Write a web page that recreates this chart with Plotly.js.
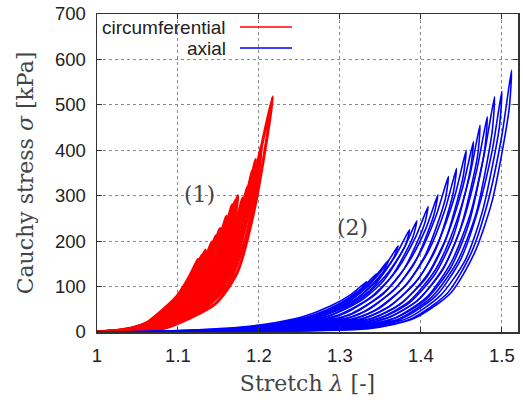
<!DOCTYPE html>
<html>
<head>
<meta charset="utf-8">
<script src="https://cdn.plot.ly/plotly-3.0.1.min.js"></script>
<style>html,body{margin:0;padding:0;background:#fff;}#chart{width:523px;height:402px;}</style>
</head>
<body>
<div id="chart"></div>
<script>
// Circumferential (red) loading/unloading cycles: stretch values and stress values (kPa)
const circLambda = [
  [1,1.015,1.040,1.060,1.0755,1.0993,1.1135,1.125,1.1215,1.1053,1.0835,1.068,1.048,1.021,1],
  [1,1.016,1.0415,1.062,1.080,1.1043,1.1185,1.130,1.1265,1.1103,1.0885,1.070,1.0495,1.022,1],
  [1,1.017,1.043,1.064,1.0845,1.1083,1.1225,1.134,1.1305,1.1143,1.0925,1.072,1.051,1.023,1],
  [1,1.019,1.046,1.067,1.0925,1.1163,1.1305,1.142,1.1385,1.1223,1.1005,1.075,1.054,1.025,1],
  [1,1.020,1.0475,1.069,1.0975,1.1213,1.1355,1.147,1.1435,1.1273,1.1055,1.077,1.0555,1.026,1],
  [1,1.021,1.049,1.0712,1.1025,1.1263,1.1405,1.152,1.1485,1.1323,1.1105,1.0792,1.057,1.027,1],
  [1,1.023,1.052,1.0792,1.1105,1.1343,1.1485,1.160,1.1565,1.1403,1.1185,1.0872,1.060,1.029,1],
  [1,1.025,1.055,1.0862,1.1175,1.1413,1.1555,1.167,1.1635,1.1473,1.1255,1.0942,1.063,1.031,1],
  [1,1.026,1.0565,1.0902,1.1215,1.1453,1.1595,1.171,1.1675,1.1513,1.1295,1.0982,1.0645,1.032,1],
  [1,1.027,1.058,1.0932,1.1245,1.1483,1.1625,1.174,1.1705,1.1543,1.1325,1.1012,1.066,1.033,1],
  [1,1.029,1.061,1.0992,1.1305,1.1543,1.1685,1.180,1.1765,1.1603,1.1385,1.1072,1.069,1.035,1],
  [1,1.031,1.064,1.1052,1.1365,1.1603,1.1745,1.186,1.1825,1.1663,1.1445,1.1132,1.072,1.037,1],
  [1,1.033,1.067,1.1112,1.1425,1.1663,1.1805,1.192,1.1885,1.1723,1.1505,1.1192,1.075,1.039,1],
  [1,1.034,1.069,1.1152,1.1465,1.1703,1.1845,1.196,1.1925,1.1763,1.1545,1.1232,1.077,1.040,1],
  [1,1.036,1.071,1.1222,1.1535,1.1773,1.1915,1.203,1.1995,1.1833,1.1615,1.1302,1.079,1.042,1],
  [1,1.040,1.075,1.139,1.166,1.187,1.201,1.217,1.211,1.193,1.173,1.146,1.083,1.046,1]
];
const circSigma = [
  [0,2,8,19,40,80,120,160,136,80,40,19,8,2,0],
  [0,2,8,20,43,85,128,170,145,85,43,20,8,2,0],
  [0,2,8,22,45,90,135,180,153,90,45,22,8,2,0],
  [0,2,8,24,50,99,149,198,168,99,50,24,8,2,0],
  [0,2,8,25,53,106,159,212,180,106,53,25,8,2,0],
  [0,2,8,27,57,114,171,228,194,114,57,27,8,2,0],
  [0,2,8,31,64,128,191,255,217,128,64,31,8,2,0],
  [0,2,8,34,70,140,210,280,238,140,70,34,8,2,0],
  [0,2,8,35,73,145,218,290,247,145,73,35,8,2,0],
  [0,2,8,36,75,150,225,300,255,150,75,36,8,2,0],
  [0,2,8,35,74,148,221,295,251,148,74,35,8,2,0],
  [0,2,8,38,80,160,240,320,272,160,80,38,8,2,0],
  [0,2,8,43,89,178,267,356,303,178,89,43,8,2,0],
  [0,2,8,46,95,190,285,380,323,190,95,46,8,2,0],
  [0,2,8,49,103,205,308,410,349,205,103,49,8,2,0],
  [0,2,8,62,130,259,389,518,440,259,130,62,8,2,0]
];

// Axial (blue) loading/unloading cycles
const axialLambda = [
  [1,1.080,1.158,1.207,1.253,1.287,1.314,1.333,1.326,1.295,1.262,1.216,1.166,1.086,1],
  [1,1.089,1.167,1.223,1.268,1.301,1.327,1.345,1.339,1.309,1.277,1.232,1.175,1.095,1],
  [1,1.098,1.175,1.242,1.285,1.317,1.342,1.360,1.354,1.325,1.294,1.251,1.183,1.104,1],
  [1,1.107,1.182,1.258,1.300,1.331,1.355,1.372,1.366,1.339,1.309,1.267,1.190,1.113,1],
  [1,1.116,1.193,1.276,1.316,1.346,1.369,1.386,1.381,1.354,1.325,1.285,1.201,1.122,1],
  [1,1.125,1.203,1.288,1.327,1.356,1.379,1.395,1.390,1.364,1.336,1.297,1.211,1.131,1],
  [1,1.134,1.217,1.288,1.306,1.344,1.371,1.393,1.409,1.404,1.379,1.353,1.315,1.297,1.225,1.140,1],
  [1,1.143,1.229,1.299,1.321,1.357,1.384,1.406,1.421,1.416,1.392,1.366,1.330,1.308,1.237,1.149,1],
  [1,1.152,1.241,1.309,1.337,1.372,1.398,1.419,1.434,1.430,1.406,1.381,1.346,1.318,1.249,1.158,1],
  [1,1.161,1.255,1.320,1.350,1.384,1.410,1.430,1.444,1.440,1.418,1.393,1.359,1.329,1.263,1.167,1],
  [1,1.170,1.266,1.330,1.364,1.398,1.422,1.442,1.456,1.452,1.430,1.407,1.373,1.339,1.274,1.176,1],
  [1,1.179,1.278,1.341,1.376,1.408,1.432,1.451,1.465,1.461,1.440,1.417,1.385,1.350,1.286,1.185,1],
  [1,1.188,1.288,1.348,1.386,1.418,1.441,1.460,1.473,1.470,1.449,1.427,1.395,1.357,1.296,1.194,1],
  [1,1.197,1.299,1.358,1.397,1.428,1.451,1.469,1.482,1.479,1.459,1.437,1.406,1.367,1.307,1.203,1],
  [1,1.206,1.309,1.367,1.408,1.438,1.461,1.478,1.491,1.488,1.468,1.445,1.414,1.374,1.316,1.211,1],
  [1,1.215,1.321,1.377,1.419,1.449,1.470,1.488,1.500,1.497,1.476,1.455,1.424,1.383,1.327,1.220,1],
  [1,1.224,1.334,1.389,1.433,1.462,1.483,1.500,1.512,1.509,1.488,1.466,1.437,1.392,1.338,1.228,1]
];
const axialSigma = [
  [0,2,8,17,33,56,83,111,94,56,33,17,8,2,0],
  [0,2,8,19,38,64,96,128,109,64,38,19,8,2,0],
  [0,2,8,24,47,79,119,158,134,79,47,24,8,2,0],
  [0,2,8,29,57,95,143,190,162,95,57,29,8,2,0],
  [0,2,8,34,68,113,169,225,191,113,68,34,8,2,0],
  [0,2,8,37,74,123,184,245,208,123,74,37,8,2,0],
  [0,2,8,30,41,83,138,207,276,235,138,83,41,30,8,2,0],
  [0,2,8,30,45,91,151,227,302,257,151,91,45,30,8,2,0],
  [0,2,8,30,51,103,171,257,342,291,171,103,51,30,8,2,0],
  [0,2,8,30,54,108,180,270,360,306,180,108,54,30,8,2,0],
  [0,2,8,30,60,120,200,300,400,340,200,120,60,30,8,2,0],
  [0,2,8,30,63,126,210,314,419,356,210,126,63,30,8,2,0],
  [0,2,8,30,68,137,228,341,455,387,228,137,68,30,8,2,0],
  [0,2,8,30,71,142,237,356,474,403,237,142,71,30,8,2,0],
  [0,2,8,30,78,155,259,389,518,440,259,155,78,30,8,2,0],
  [0,2,8,30,80,159,265,398,530,451,265,159,80,30,8,2,0],
  [0,2,8,30,86,173,288,432,576,490,288,173,86,30,8,2,0]
];

const seriesNames = ["circumferential", "axial"];
const seriesColors = ["#ff0000", "#0000ff"];
const xTickVals = [1, 1.1, 1.2, 1.3, 1.4, 1.5];
const xTickText = ["1", "1.1", "1.2", "1.3", "1.4", "1.5"];
const yTickVals = [0, 100, 200, 300, 400, 500, 600, 700];
const labelTexts = ["(1)", "(2)"];
const labelLambda = [1.126, 1.315];
const labelSigma = [303, 229];

const traces = [];
circLambda.forEach((lam, i) => {
  traces.push({
    x: lam, y: circSigma[i], type: "scatter", mode: "lines",
    line: {color: seriesColors[0], width: 3, shape: "spline", smoothing: 0.7},
    name: seriesNames[0], legendgroup: "c", showlegend: false, hoverinfo: "skip"
  });
});
axialLambda.forEach((lam, i) => {
  traces.push({
    x: lam, y: axialSigma[i], type: "scatter", mode: "lines",
    line: {color: seriesColors[1], width: 1.6, shape: "spline", smoothing: 0.7},
    name: seriesNames[1], legendgroup: "a", showlegend: false, hoverinfo: "skip"
  });
});

const tickFont = {family: "Liberation Sans, Arial, sans-serif", size: 18.5, color: "#222"};
const serifFont = {family: "DejaVu Serif, serif", size: 22, color: "#444"};

const annotations = labelTexts.map((t, i) => ({
  x: labelLambda[i], y: labelSigma[i], xref: "x", yref: "y", text: t,
  showarrow: false, font: {family: serifFont.family, size: 22, color: "#444"}
}));
// custom legend (text then sample line, gnuplot style)
const legendY = [0.959, 0.893];
seriesNames.forEach((n, i) => {
  annotations.push({
    x: 0.311, y: legendY[i], xref: "paper", yref: "paper", text: n,
    xanchor: "right", yanchor: "middle", showarrow: false,
    font: {family: tickFont.family, size: 19, color: "#222"}
  });
});

const shapes = [
  {type: "rect", xref: "paper", yref: "paper", x0: 0.004, x1: 0.48, y0: 0.87, y1: 0.995,
   fillcolor: "#fff", line: {width: 0}, layer: "between"}
];
seriesColors.forEach((c, i) => {
  shapes.push({type: "line", xref: "paper", yref: "paper", x0: 0.3397, x1: 0.4632,
    y0: legendY[i], y1: legendY[i], line: {color: c, width: 1.5}});
});

const layout = {
  width: 523, height: 402,
  margin: {l: 97, r: 5, t: 14, b: 70},
  paper_bgcolor: "#fff", plot_bgcolor: "#fff",
  showlegend: false,
  xaxis: {
    range: [1, 1.52], tickvals: xTickVals, ticktext: xTickText,
    showline: true, mirror: "allticks", linecolor: "#333", linewidth: 1.5,
    ticks: "inside", ticklen: 5, tickcolor: "#333", tickwidth: 1,
    showgrid: true, gridcolor: "#8a8a8a", griddash: "dot", gridwidth: 1,
    zeroline: false, tickfont: tickFont, ticklabelstandoff: 6,
    title: {text: "Stretch <i>λ</i> [-]", font: serifFont, standoff: 11}
  },
  yaxis: {
    range: [0, 700], tickvals: yTickVals,
    showline: true, mirror: "allticks", linecolor: "#333", linewidth: 1.5,
    ticks: "inside", ticklen: 5, tickcolor: "#333", tickwidth: 1,
    showgrid: true, gridcolor: "#8a8a8a", griddash: "dot", gridwidth: 1,
    zeroline: false, tickfont: tickFont, ticklabelstandoff: 6,
    title: {text: "Cauchy stress <i>σ</i> [kPa]", font: serifFont, standoff: 15}
  },
  annotations: annotations,
  shapes: shapes
};

Plotly.newPlot("chart", traces, layout, {staticPlot: true, displayModeBar: false});
</script>
</body>
</html>
